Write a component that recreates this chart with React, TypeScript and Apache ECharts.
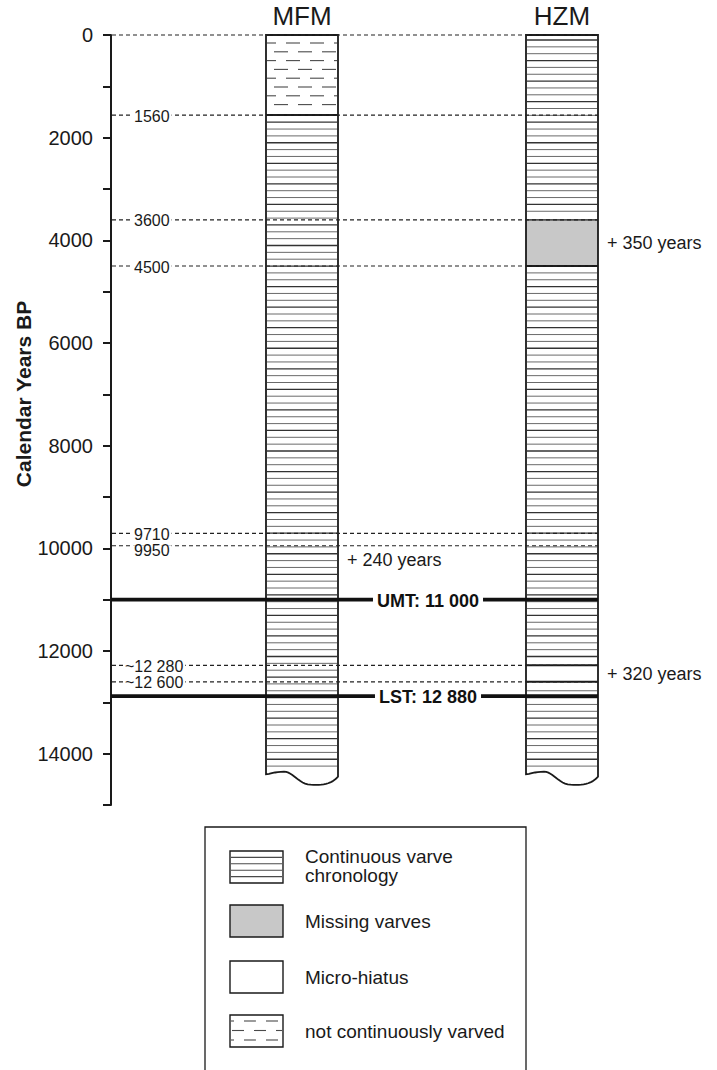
import React, { useEffect, useRef } from "react";
import * as echarts from "echarts";

// ---------------- data ----------------
const cores = ["MFM", "HZM"];
const coreBase = 14400;
// facies: 0 continuous varve chronology, 1 missing varves, 2 micro-hiatus, 3 not continuously varved
const faciesNames = ["Continuous varve\nchronology", "Missing varves", "Micro-hiatus", "not continuously varved"];
const mfmFrom = [0, 1560];
const mfmTo = [1560, 14400];
const mfmFacies = [3, 0];
const hzmFrom = [0, 3600, 4500, 12280, 12600];
const hzmTo = [3600, 4500, 12280, 12600, 14400];
const hzmFacies = [0, 1, 0, 2, 0];
const markerYears = [0, 1560, 3600, 4500, 9710, 9950, 12280, 12600];
const markerLabels = ["", "1560", "3600", "4500", "9710", "9950", "~12 280", "~12 600"];
const tephraYears = [11000, 12880];
const tephraLabels = ["UMT: 11 000", "LST: 12 880"];
const offsetYears = [4050, 10220, 12440];
const offsetCores = [1, 0, 1];
const offsetLabels = ["+ 350 years", "+ 240 years", "+ 320 years"];
const yMin = 0;
const yMax = 15000;
const yTickStep = 1000;
const yLabelStep = 2000;
const yTitle = "Calendar Years BP";

// ---------------- layout ----------------
const W = 717;
const H = 1070;
const AXIS_X = 111;
const TOP = 35;
const PLOT_H = 770;
const X_MAX = 606;
const coreLeft = [155, 415];
const coreWidth = 72;
const FONT = "'Liberation Sans', Arial, Helvetica, sans-serif";
const INK = "#1a1a1a";
const HATCH = "#4a4a4a";
const GRAY = "#c8c8c8";

function cubic(p0: number[], p1: number[], p2: number[], p3: number[], n: number) {
  const pts: number[][] = [];
  for (let i = 1; i <= n; i++) {
    const t = i / n;
    const u = 1 - t;
    pts.push([
      u * u * u * p0[0] + 3 * u * u * t * p1[0] + 3 * u * t * t * p2[0] + t * t * t * p3[0],
      u * u * u * p0[1] + 3 * u * u * t * p1[1] + 3 * u * t * t * p2[1] + t * t * t * p3[1],
    ]);
  }
  return pts;
}

function corePolygon(xl: number, xr: number, yt: number, yb: number) {
  const w = xr - xl;
  const pts: number[][] = [[xl, yt], [xr, yt], [xr, yb + 2.5]];
  pts.push(...cubic([xr, yb + 2.5], [xl + 0.9 * w, yb + 10.5], [xl + 0.78 * w, yb + 11], [xl + 0.62 * w, yb + 10.5], 12));
  pts.push(...cubic([xl + 0.62 * w, yb + 10.5], [xl + 0.45 * w, yb + 10], [xl + 0.38 * w, yb - 2.5], [xl + 0.25 * w, yb - 2.5], 12));
  pts.push(...cubic([xl + 0.25 * w, yb - 2.5], [xl + 0.12 * w, yb - 2.5], [xl + 0.05 * w, yb], [xl, yb], 8));
  return pts;
}

function hLine(x1: number, x2: number, y: number, stroke: string, lw: number, dash?: number[]) {
  const style: any = { stroke, lineWidth: lw };
  if (dash) style.lineDash = dash;
  return { type: "line", shape: { x1, y1: y, x2, y2: y }, style };
}

function dashRow(x0: number, w: number, y: number, offset: number, dash: number, period: number) {
  const out: any[] = [];
  for (let s = offset - period; s < w; s += period) {
    const a = Math.max(s, 1);
    const b = Math.min(s + dash, w - 1);
    if (b - a > 2) out.push(hLine(x0 + a, x0 + b, y, HATCH, 1.1));
  }
  return out;
}

const segmentData: number[][] = [];
mfmFrom.forEach((f, i) => segmentData.push([0, f, mfmTo[i], mfmFacies[i]]));
hzmFrom.forEach((f, i) => segmentData.push([1, f, hzmTo[i], hzmFacies[i]]));

export default function App() {
  const ref = useRef<HTMLDivElement>(null);
  useEffect(() => {
    document.body.style.margin = "0";
    const chart = echarts.init(ref.current!, null, { renderer: "svg" });

    const coreX = (api: any, ci: number) => [
      api.coord([coreLeft[ci], 0])[0],
      api.coord([coreLeft[ci] + coreWidth, 0])[0],
    ];

    const legendY = [851, 905, 961, 1015];
    const swX = 230;
    const swW = 53;
    const swH = 32;
    const legendEls: any[] = [
      { type: "rect", shape: { x: 205, y: 827, width: 321, height: 270 }, style: { fill: "none", stroke: INK, lineWidth: 1.3 } },
    ];
    faciesNames.forEach((name, i) => {
      const y = legendY[i];
      legendEls.push({ type: "rect", shape: { x: swX, y, width: swW, height: swH }, style: { fill: i === 1 ? GRAY : "#fff", stroke: INK, lineWidth: 1.4 } });
      if (i === 0) {
        for (let k = 1; k <= 4; k++) legendEls.push(hLine(swX + 1, swX + swW - 1, y + k * 6.4, HATCH, 1.1));
      }
      if (i === 3) {
        [6, 15.5, 25].forEach((dy, r) => legendEls.push(...dashRow(swX, swW, y + dy, r % 2 === 0 ? 14 : 2, 12, 22)));
      }
      legendEls.push({
        type: "text",
        x: 305,
        y: y + swH / 2 - (i === 0 ? 1 : 0),
        style: { text: name, fontSize: 19, fontFamily: FONT, fill: INK, verticalAlign: "middle", align: "left", lineHeight: 19 },
      });
    });

    const option: any = {
      animation: false,
      backgroundColor: "#fff",
      grid: { left: AXIS_X, top: TOP, width: X_MAX, height: PLOT_H, containLabel: false },
      xAxis: { type: "value", min: 0, max: X_MAX, show: false },
      yAxis: {
        type: "value",
        inverse: true,
        min: yMin,
        max: yMax,
        interval: yTickStep,
        splitLine: { show: false },
        axisLine: { show: true, lineStyle: { color: INK, width: 2 } },
        axisTick: { show: true, inside: false, length: 8, lineStyle: { color: INK, width: 2 } },
        axisLabel: {
          show: true,
          margin: 18,
          fontSize: 20,
          fontFamily: FONT,
          color: INK,
          formatter: (v: number) => (v % yLabelStep === 0 ? String(v) : ""),
        },
      },
      graphic: [
        {
          type: "text",
          x: 23,
          y: 394,
          rotation: Math.PI / 2,
          style: { text: yTitle, fontSize: 21, fontWeight: "bold", fontFamily: FONT, fill: INK, align: "center", verticalAlign: "middle" },
        },
        ...legendEls,
      ],
      series: [
        // white base of the cores
        {
          type: "custom",
          z: 1,
          clip: false,
          encode: { x: 0, y: 1 },
          data: cores.map((_, i) => [i, 0]),
          renderItem: (params: any, api: any) => {
            const ci = api.value(0);
            const [xl, xr] = coreX(api, ci);
            const yt = api.coord([0, 0])[1];
            const yb = api.coord([0, coreBase])[1];
            return { type: "polygon", shape: { points: corePolygon(xl, xr, yt, yb) }, style: { fill: "#fff", stroke: "none" } };
          },
        },
        // facies segments
        {
          type: "custom",
          z: 2,
          clip: false,
          encode: { x: 0, y: 1 },
          data: segmentData,
          renderItem: (params: any, api: any) => {
            const ci = api.value(0);
            const from = api.value(1);
            const to = api.value(2);
            const f = api.value(3);
            const [xl, xr] = coreX(api, ci);
            const yt = api.coord([0, 0])[1];
            const y0 = api.coord([0, from])[1];
            const y1 = api.coord([0, to])[1];
            const children: any[] = [
              { type: "rect", shape: { x: xl, y: y0, width: xr - xl, height: y1 - y0 }, style: { fill: f === 1 ? GRAY : "#fff" } },
            ];
            if (f === 0) {
              let k = 0;
              for (let y = yt + 5; y < y1 - 4; y += 6.85, k++) {
                if (y > y0 + 2.5) children.push(hLine(xl + 1, xr - 1, y, k % 3 === 0 ? "#333" : "#6a6a6a", k % 3 === 0 ? 1.3 : 1));
              }
            }
            if (f === 3) {
              let r = 0;
              for (let y = yt + 8; y < y1 - 3; y += 8.8, r++) {
                children.push(...dashRow(xl, xr - xl, y, r % 2 === 0 ? 20 : 8, 14, 24));
              }
            }
            if (from > 0) children.push(hLine(xl, xr, y0, INK, f === 1 ? 1.2 : 2));
            return { type: "group", children };
          },
        },
        // core outlines + names
        {
          type: "custom",
          z: 3,
          clip: false,
          encode: { x: 0, y: 1 },
          data: cores.map((_, i) => [i, 0]),
          renderItem: (params: any, api: any) => {
            const ci = api.value(0);
            const [xl, xr] = coreX(api, ci);
            const yt = api.coord([0, 0])[1];
            const yb = api.coord([0, coreBase])[1];
            return {
              type: "group",
              children: [
                { type: "polygon", shape: { points: corePolygon(xl, xr, yt, yb) }, style: { fill: "none", stroke: INK, lineWidth: 1.8 } },
                {
                  type: "text",
                  x: (xl + xr) / 2,
                  y: yt - 19,
                  style: { text: cores[ci], fontSize: 26, fontFamily: FONT, fill: INK, align: "center", verticalAlign: "middle" },
                },
              ],
            };
          },
        },
        // dashed correlation levels
        {
          type: "custom",
          z: 4,
          clip: false,
          encode: { x: 1, y: 0 },
          data: markerYears.map((yr, i) => [yr, i]),
          renderItem: (params: any, api: any) => {
            const yr = api.value(0);
            const idx = api.value(1);
            const p = api.coord([0, yr]);
            const xe = api.coord([coreLeft[1] + coreWidth, yr])[0];
            const lab = markerLabels[idx];
            const crowded = idx > 0 && yr - markerYears[idx - 1] < 300;
            const children: any[] = [hLine(p[0] + 1, xe, p[1], "#222", 1.2, [4, 3])];
            if (lab) {
              children.push({
                type: "text",
                x: p[0] + (lab.startsWith("~") ? 12 : 21),
                y: p[1] + (crowded ? 5 : 1),
                style: {
                  text: lab,
                  fontSize: 16,
                  lineHeight: 11,
                  fontFamily: FONT,
                  fill: INK,
                  align: "left",
                  verticalAlign: "middle",
                  backgroundColor: "#fff",
                  padding: [0, 2, 0, 2],
                },
              });
            }
            return { type: "group", children };
          },
        },
        // tephra layers
        {
          type: "custom",
          z: 5,
          clip: false,
          encode: { x: 1, y: 0 },
          data: tephraYears.map((yr, i) => [yr, i]),
          renderItem: (params: any, api: any) => {
            const yr = api.value(0);
            const idx = api.value(1);
            const p = api.coord([0, yr]);
            const xe = api.coord([coreLeft[1] + coreWidth, yr])[0];
            const xm = api.coord([317, yr])[0];
            return {
              type: "group",
              children: [
                hLine(p[0], xe, p[1], "#111", 3.6),
                {
                  type: "text",
                  x: xm,
                  y: p[1] + 1,
                  style: {
                    text: tephraLabels[idx],
                    fontSize: 18,
                    fontWeight: "bold",
                    fontFamily: FONT,
                    fill: "#111",
                    align: "center",
                    verticalAlign: "middle",
                    backgroundColor: "#fff",
                    padding: [0, 4, 0, 4],
                  },
                },
              ],
            };
          },
        },
        // offset annotations
        {
          type: "custom",
          z: 6,
          clip: false,
          encode: { x: 1, y: 0 },
          data: offsetYears.map((yr, i) => [yr, i]),
          renderItem: (params: any, api: any) => {
            const yr = api.value(0);
            const idx = api.value(1);
            const ci = offsetCores[idx];
            const p = api.coord([coreLeft[ci] + coreWidth, yr]);
            return {
              type: "text",
              x: p[0] + 9,
              y: p[1],
              style: { text: offsetLabels[idx], fontSize: 18, fontFamily: FONT, fill: INK, align: "left", verticalAlign: "middle" },
            };
          },
        },
      ],
    };
    chart.setOption(option);
    return () => chart.dispose();
  }, []);
  return <div ref={ref} style={{ position: "fixed", left: 0, top: 0, width: W, height: H, background: "#fff" }} />;
}
